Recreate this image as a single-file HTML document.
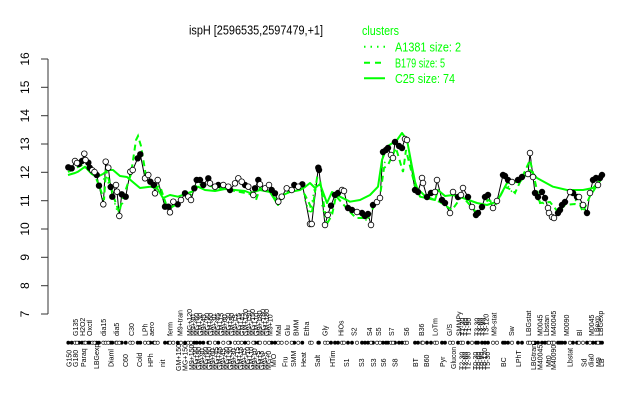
<!DOCTYPE html>
<html><head><meta charset="utf-8"><style>
html,body{margin:0;padding:0;background:#fff;}
svg{display:block;font-family:"Liberation Sans",Arial,sans-serif;}
</style></head><body>
<svg width="640" height="400" viewBox="0 0 640 400" xmlns="http://www.w3.org/2000/svg">
<rect width="640" height="400" fill="#fff"/>
<!-- title -->
<text x="256" y="34.5" font-size="12.5" text-anchor="middle" textLength="134" lengthAdjust="spacingAndGlyphs" fill="#000">ispH [2596535,2597479,+1]</text>
<!-- legend -->
<g fill="#00ff00" font-size="12.5">
<text x="362" y="35" textLength="37" lengthAdjust="spacingAndGlyphs">clusters</text>
<text x="395" y="51.5" textLength="66" lengthAdjust="spacingAndGlyphs">A1381 size: 2</text>
<text x="395" y="67.3" textLength="50" lengthAdjust="spacingAndGlyphs">B179 size: 5</text>
<text x="395" y="83" textLength="60" lengthAdjust="spacingAndGlyphs">C25 size: 74</text>
</g>
<g stroke="#00ff00" stroke-width="2" fill="none">
<line x1="364" y1="46.7" x2="385" y2="46.7" stroke-dasharray="1.5,5"/>
<line x1="364" y1="62.7" x2="385" y2="62.7" stroke-dasharray="6,5"/>
<line x1="364" y1="78.3" x2="385" y2="78.3"/>
</g>
<!-- y axis -->
<g stroke="#333" stroke-width="1" fill="none">
<line x1="48" y1="59" x2="48" y2="314"/>
<line x1="41" y1="314" x2="48" y2="314"/>
<line x1="41" y1="285.7" x2="48" y2="285.7"/>
<line x1="41" y1="257.3" x2="48" y2="257.3"/>
<line x1="41" y1="229" x2="48" y2="229"/>
<line x1="41" y1="200.7" x2="48" y2="200.7"/>
<line x1="41" y1="172.3" x2="48" y2="172.3"/>
<line x1="41" y1="144" x2="48" y2="144"/>
<line x1="41" y1="115.7" x2="48" y2="115.7"/>
<line x1="41" y1="87.3" x2="48" y2="87.3"/>
<line x1="41" y1="59" x2="48" y2="59"/>
</g>
<g font-size="12" fill="#000" text-anchor="middle">
<text transform="translate(29,314) rotate(-90)">7</text>
<text transform="translate(29,285.7) rotate(-90)">8</text>
<text transform="translate(29,257.3) rotate(-90)">9</text>
<text transform="translate(29,229) rotate(-90)">10</text>
<text transform="translate(29,200.7) rotate(-90)">11</text>
<text transform="translate(29,172.3) rotate(-90)">12</text>
<text transform="translate(29,144) rotate(-90)">13</text>
<text transform="translate(29,115.7) rotate(-90)">14</text>
<text transform="translate(29,87.3) rotate(-90)">15</text>
<text transform="translate(29,59) rotate(-90)">16</text>
</g>
<!-- black data line -->
<polyline fill="none" stroke="#000" stroke-width="1" points="68.3,167.3 71.7,168.3 75,161 77,163 79,164 82,161 84.3,153.7 85.5,160 88.3,162.7 89.7,167.7 92.3,170.3 94.5,172 96.7,175 99,185.7 103.3,204.3 105.7,161.7 108.3,167.7 110.7,187 112.3,196.7 116,185 117,191.7 119.3,216 121.7,194.3 125.7,196.7 130.3,171.7 132.7,170 137.7,158.3 140.3,154.3 145,178.3 148.3,175 150.3,181.7 153.7,185 155,193.3 157.7,180 165,206.7 168.3,206.7 170,212.3 173.3,201.7 177.7,204.3 181,200 185,193.3 188.3,196.7 191,200 194.3,188.3 196.7,180 200,180 203.3,185 208.3,178.3 210,183.3 215,186.7 218.3,185 223.3,185 228.3,186.7 230,190 235,183.3 238.3,178.3 241.7,181.7 245,185 248.3,186.7 253.3,195 255,188.3 258.3,180 260,184.3 265,188.3 269,185 271.7,190 275,193.3 278.3,201.7 281.7,196.7 286.7,188.3 291.7,190 294.3,185 298.3,186.7 302.3,184.3 310,224 311.7,224 318.3,167.7 319,170 325,225 327.7,215 331,205.7 335,195 338,193 342,190 344,191 348,208 352,210 357,212 362,213 365,216 368,214 371,225 373,205 377,202 380,198 383,152 386,150 388,148 391,155 393,158 395,142 399,146 402,148 405,139 407,140 415,190 418,192 422,178 423,183 427,197 431,193 435,192 437,180 442,200 445,203 450,213 453,192 458,197 461,195 463,188 468,197 472,207 476,215 478,213 482,207 485,197 488,195 493,208 497,201 503,175 505,176 508,180 512,182 518,180 522,177 528,174 530,153 533,177 535,193 538,197 542,192 545,198 548,208 549,213 552,217 554,218 558,213 560,210 562,205 565,202 570,192 573,193 577,197 579,197 583,205 587,213 590,193 593,180 596,178 598,185 600,178 602,175"/>
<!-- green dotted A1381 (short fragments) -->
<g fill="none" stroke="#00ff00" stroke-width="1.5" stroke-dasharray="1.5,4">
<polyline points="100,184 106,176 112,194 118,214 124,200"/>
<polyline points="305,200 310,214 316,180"/>
<polyline points="322,205 326,222 332,210"/>
<polyline points="356,214 366,220 372,212"/>
<polyline points="382,168 386,160"/>
<polyline points="508,186 514,195"/>
<polyline points="538,200 546,205"/>
<polyline points="575,200 584,206"/>
</g>
<!-- green dashed B179 -->
<polyline fill="none" stroke="#00ff00" stroke-width="2" stroke-dasharray="6,4" points="68,172 80,166 88,163 96,178 100,188 104,200 106,170 110,184 114,198 119,212 123,198 131,174 136,140 138,136 141,146 146,176 154,188 160,186 166,204 172,207 180,202 190,196 197,184 210,186 230,190 250,194 256,200 260,188 270,192 278,202 286,192 300,188 305,195 310,205 312,212 317,178 320,180 325,212 328,222 332,215 336,196 350,212 356,218 368,218 374,206 380,196 384,168 388,165 396,148 403,172 406,150 415,186 425,196 440,202 452,210 462,196 476,212 488,200 496,204 505,187 512,190 515,193 530,160 540,203 550,202 558,212 565,205 575,204 580,205 583,212 590,196 602,178"/>
<!-- green solid C25 -->
<polyline fill="none" stroke="#00ff00" stroke-width="2" stroke-linejoin="round" points="68,175 75,173 78,171.7 85,166.7 91.7,174 97,177 103,174 108,170 113,170 120,176 127,177 134,183 140,188 150,186.7 157,188 163,198 170,195 178,196.7 185,194 192,191.7 198,186.7 205,190 215,191 225,189 235,190 245,191 250,193 260,190 270,192 278,205 283,195 290,192 300,190 305,187 310,183 315,188 320,184 327,203 332,192 340,196.7 350,201.7 360,200 370,195 378,186.7 382,160 387,146.7 397,140 402,133 407,140 412,166.7 415,181.7 420,196.7 435,200 438,190 445,196 453,195 463,198 477,203 487,205 497,201.7 507,183 520,181.7 530,170 537,178 553,186.7 567,190 583,190 593,188 602,178"/>
<!-- filled points -->
<g fill="#000" stroke="#000" stroke-width="0.8">
<circle cx="68.3" cy="167.3" r="2.8"/><circle cx="71.7" cy="168.3" r="2.8"/><circle cx="79" cy="164" r="2.8"/><circle cx="82" cy="161" r="2.8"/><circle cx="88.3" cy="162.7" r="2.8"/><circle cx="89.7" cy="167.7" r="2.8"/><circle cx="96.7" cy="175" r="2.8"/><circle cx="99" cy="185.7" r="2.8"/><circle cx="110.7" cy="187" r="2.8"/><circle cx="112.3" cy="196.7" r="2.8"/><circle cx="121.7" cy="194.3" r="2.8"/><circle cx="125.7" cy="196.7" r="2.8"/><circle cx="137.7" cy="158.3" r="2.8"/><circle cx="140.3" cy="154.3" r="2.8"/><circle cx="150.3" cy="181.7" r="2.8"/><circle cx="153.7" cy="185" r="2.8"/><circle cx="165" cy="206.7" r="2.8"/><circle cx="168.3" cy="206.7" r="2.8"/><circle cx="177.7" cy="204.3" r="2.8"/><circle cx="185" cy="193.3" r="2.8"/><circle cx="194.3" cy="188.3" r="2.8"/><circle cx="196.7" cy="180" r="2.8"/><circle cx="200" cy="180" r="2.8"/><circle cx="203.3" cy="185" r="2.8"/><circle cx="208.3" cy="178.3" r="2.8"/><circle cx="218.3" cy="185" r="2.8"/><circle cx="230" cy="190" r="2.8"/><circle cx="245" cy="185" r="2.8"/><circle cx="255" cy="188.3" r="2.8"/><circle cx="258.3" cy="180" r="2.8"/><circle cx="271.7" cy="190" r="2.8"/><circle cx="275" cy="193.3" r="2.8"/><circle cx="294.3" cy="185" r="2.8"/><circle cx="302.3" cy="184.3" r="2.8"/><circle cx="318.3" cy="167.7" r="2.8"/><circle cx="319" cy="170" r="2.8"/><circle cx="331" cy="205.7" r="2.8"/><circle cx="335" cy="195" r="2.8"/><circle cx="338" cy="193" r="2.8"/><circle cx="348" cy="208" r="2.8"/><circle cx="352" cy="210" r="2.8"/><circle cx="362" cy="213" r="2.8"/><circle cx="365" cy="216" r="2.8"/><circle cx="368" cy="214" r="2.8"/><circle cx="373" cy="205" r="2.8"/><circle cx="383" cy="152" r="2.8"/><circle cx="386" cy="150" r="2.8"/><circle cx="388" cy="148" r="2.8"/><circle cx="395" cy="142" r="2.8"/><circle cx="399" cy="146" r="2.8"/><circle cx="402" cy="148" r="2.8"/><circle cx="415" cy="190" r="2.8"/><circle cx="418" cy="192" r="2.8"/><circle cx="427" cy="197" r="2.8"/><circle cx="431" cy="193" r="2.8"/><circle cx="442" cy="200" r="2.8"/><circle cx="445" cy="203" r="2.8"/><circle cx="458" cy="197" r="2.8"/><circle cx="468" cy="197" r="2.8"/><circle cx="476" cy="215" r="2.8"/><circle cx="478" cy="213" r="2.8"/><circle cx="482" cy="207" r="2.8"/><circle cx="485" cy="197" r="2.8"/><circle cx="488" cy="195" r="2.8"/><circle cx="503" cy="175" r="2.8"/><circle cx="505" cy="176" r="2.8"/><circle cx="508" cy="180" r="2.8"/><circle cx="518" cy="180" r="2.8"/><circle cx="522" cy="177" r="2.8"/><circle cx="535" cy="193" r="2.8"/><circle cx="538" cy="197" r="2.8"/><circle cx="542" cy="192" r="2.8"/><circle cx="545" cy="198" r="2.8"/><circle cx="558" cy="213" r="2.8"/><circle cx="560" cy="210" r="2.8"/><circle cx="562" cy="205" r="2.8"/><circle cx="565" cy="202" r="2.8"/><circle cx="573" cy="193" r="2.8"/><circle cx="577" cy="197" r="2.8"/><circle cx="587" cy="213" r="2.8"/><circle cx="593" cy="180" r="2.8"/><circle cx="596" cy="178" r="2.8"/><circle cx="600" cy="178" r="2.8"/><circle cx="602" cy="175" r="2.8"/>
</g>
<!-- open points -->
<g fill="#fff" stroke="#000" stroke-width="0.8">
<circle cx="75" cy="161" r="2.8"/><circle cx="77" cy="163" r="2.8"/><circle cx="84.3" cy="153.7" r="2.8"/><circle cx="85.5" cy="160" r="2.8"/><circle cx="92.3" cy="170.3" r="2.8"/><circle cx="94.5" cy="172" r="2.8"/><circle cx="103.3" cy="204.3" r="2.8"/><circle cx="105.7" cy="161.7" r="2.8"/><circle cx="108.3" cy="167.7" r="2.8"/><circle cx="116" cy="185" r="2.8"/><circle cx="117" cy="191.7" r="2.8"/><circle cx="119.3" cy="216" r="2.8"/><circle cx="130.3" cy="171.7" r="2.8"/><circle cx="132.7" cy="170" r="2.8"/><circle cx="145" cy="178.3" r="2.8"/><circle cx="148.3" cy="175" r="2.8"/><circle cx="155" cy="193.3" r="2.8"/><circle cx="157.7" cy="180" r="2.8"/><circle cx="170" cy="212.3" r="2.8"/><circle cx="173.3" cy="201.7" r="2.8"/><circle cx="181" cy="200" r="2.8"/><circle cx="188.3" cy="196.7" r="2.8"/><circle cx="191" cy="200" r="2.8"/><circle cx="210" cy="183.3" r="2.8"/><circle cx="215" cy="186.7" r="2.8"/><circle cx="223.3" cy="185" r="2.8"/><circle cx="228.3" cy="186.7" r="2.8"/><circle cx="235" cy="183.3" r="2.8"/><circle cx="238.3" cy="178.3" r="2.8"/><circle cx="241.7" cy="181.7" r="2.8"/><circle cx="248.3" cy="186.7" r="2.8"/><circle cx="253.3" cy="195" r="2.8"/><circle cx="260" cy="184.3" r="2.8"/><circle cx="265" cy="188.3" r="2.8"/><circle cx="269" cy="185" r="2.8"/><circle cx="278.3" cy="201.7" r="2.8"/><circle cx="281.7" cy="196.7" r="2.8"/><circle cx="286.7" cy="188.3" r="2.8"/><circle cx="291.7" cy="190" r="2.8"/><circle cx="298.3" cy="186.7" r="2.8"/><circle cx="310" cy="224" r="2.8"/><circle cx="311.7" cy="224" r="2.8"/><circle cx="325" cy="225" r="2.8"/><circle cx="327.7" cy="215" r="2.8"/><circle cx="342" cy="190" r="2.8"/><circle cx="344" cy="191" r="2.8"/><circle cx="357" cy="212" r="2.8"/><circle cx="371" cy="225" r="2.8"/><circle cx="377" cy="202" r="2.8"/><circle cx="380" cy="198" r="2.8"/><circle cx="391" cy="155" r="2.8"/><circle cx="393" cy="158" r="2.8"/><circle cx="405" cy="139" r="2.8"/><circle cx="407" cy="140" r="2.8"/><circle cx="422" cy="178" r="2.8"/><circle cx="423" cy="183" r="2.8"/><circle cx="435" cy="192" r="2.8"/><circle cx="437" cy="180" r="2.8"/><circle cx="450" cy="213" r="2.8"/><circle cx="453" cy="192" r="2.8"/><circle cx="461" cy="195" r="2.8"/><circle cx="463" cy="188" r="2.8"/><circle cx="472" cy="207" r="2.8"/><circle cx="493" cy="208" r="2.8"/><circle cx="497" cy="201" r="2.8"/><circle cx="512" cy="182" r="2.8"/><circle cx="528" cy="174" r="2.8"/><circle cx="530" cy="153" r="2.8"/><circle cx="533" cy="177" r="2.8"/><circle cx="548" cy="208" r="2.8"/><circle cx="549" cy="213" r="2.8"/><circle cx="552" cy="217" r="2.8"/><circle cx="554" cy="218" r="2.8"/><circle cx="570" cy="192" r="2.8"/><circle cx="579" cy="197" r="2.8"/><circle cx="583" cy="205" r="2.8"/><circle cx="590" cy="193" r="2.8"/><circle cx="598" cy="185" r="2.8"/>
</g>
<!-- rug dots -->
<g fill="#000" stroke="#000" stroke-width="0.6">
<circle cx="68.3" cy="342.7" r="1.6"/><circle cx="71.7" cy="342.7" r="1.6"/><circle cx="79" cy="342.7" r="1.6"/><circle cx="82" cy="342.7" r="1.6"/><circle cx="88.3" cy="342.7" r="1.6"/><circle cx="89.7" cy="342.7" r="1.6"/><circle cx="96.7" cy="342.7" r="1.6"/><circle cx="99" cy="342.7" r="1.6"/><circle cx="110.7" cy="342.7" r="1.6"/><circle cx="112.3" cy="342.7" r="1.6"/><circle cx="121.7" cy="342.7" r="1.6"/><circle cx="125.7" cy="342.7" r="1.6"/><circle cx="137.7" cy="342.7" r="1.6"/><circle cx="140.3" cy="342.7" r="1.6"/><circle cx="150.3" cy="342.7" r="1.6"/><circle cx="153.7" cy="342.7" r="1.6"/><circle cx="165" cy="342.7" r="1.6"/><circle cx="168.3" cy="342.7" r="1.6"/><circle cx="177.7" cy="342.7" r="1.6"/><circle cx="185" cy="342.7" r="1.6"/><circle cx="194.3" cy="342.7" r="1.6"/><circle cx="196.7" cy="342.7" r="1.6"/><circle cx="200" cy="342.7" r="1.6"/><circle cx="203.3" cy="342.7" r="1.6"/><circle cx="208.3" cy="342.7" r="1.6"/><circle cx="218.3" cy="342.7" r="1.6"/><circle cx="230" cy="342.7" r="1.6"/><circle cx="245" cy="342.7" r="1.6"/><circle cx="255" cy="342.7" r="1.6"/><circle cx="258.3" cy="342.7" r="1.6"/><circle cx="271.7" cy="342.7" r="1.6"/><circle cx="275" cy="342.7" r="1.6"/><circle cx="294.3" cy="342.7" r="1.6"/><circle cx="302.3" cy="342.7" r="1.6"/><circle cx="318.3" cy="342.7" r="1.6"/><circle cx="319" cy="342.7" r="1.6"/><circle cx="331" cy="342.7" r="1.6"/><circle cx="335" cy="342.7" r="1.6"/><circle cx="338" cy="342.7" r="1.6"/><circle cx="348" cy="342.7" r="1.6"/><circle cx="352" cy="342.7" r="1.6"/><circle cx="362" cy="342.7" r="1.6"/><circle cx="365" cy="342.7" r="1.6"/><circle cx="368" cy="342.7" r="1.6"/><circle cx="373" cy="342.7" r="1.6"/><circle cx="383" cy="342.7" r="1.6"/><circle cx="386" cy="342.7" r="1.6"/><circle cx="388" cy="342.7" r="1.6"/><circle cx="395" cy="342.7" r="1.6"/><circle cx="399" cy="342.7" r="1.6"/><circle cx="402" cy="342.7" r="1.6"/><circle cx="415" cy="342.7" r="1.6"/><circle cx="418" cy="342.7" r="1.6"/><circle cx="427" cy="342.7" r="1.6"/><circle cx="431" cy="342.7" r="1.6"/><circle cx="442" cy="342.7" r="1.6"/><circle cx="445" cy="342.7" r="1.6"/><circle cx="458" cy="342.7" r="1.6"/><circle cx="468" cy="342.7" r="1.6"/><circle cx="476" cy="342.7" r="1.6"/><circle cx="478" cy="342.7" r="1.6"/><circle cx="482" cy="342.7" r="1.6"/><circle cx="485" cy="342.7" r="1.6"/><circle cx="488" cy="342.7" r="1.6"/><circle cx="503" cy="342.7" r="1.6"/><circle cx="505" cy="342.7" r="1.6"/><circle cx="508" cy="342.7" r="1.6"/><circle cx="518" cy="342.7" r="1.6"/><circle cx="522" cy="342.7" r="1.6"/><circle cx="535" cy="342.7" r="1.6"/><circle cx="538" cy="342.7" r="1.6"/><circle cx="542" cy="342.7" r="1.6"/><circle cx="545" cy="342.7" r="1.6"/><circle cx="558" cy="342.7" r="1.6"/><circle cx="560" cy="342.7" r="1.6"/><circle cx="562" cy="342.7" r="1.6"/><circle cx="565" cy="342.7" r="1.6"/><circle cx="573" cy="342.7" r="1.6"/><circle cx="577" cy="342.7" r="1.6"/><circle cx="587" cy="342.7" r="1.6"/><circle cx="593" cy="342.7" r="1.6"/><circle cx="596" cy="342.7" r="1.6"/><circle cx="600" cy="342.7" r="1.6"/><circle cx="602" cy="342.7" r="1.6"/>
</g>
<g fill="#fff" stroke="#000" stroke-width="0.6">
<circle cx="75" cy="342.7" r="1.6"/><circle cx="77" cy="342.7" r="1.6"/><circle cx="84.3" cy="342.7" r="1.6"/><circle cx="85.5" cy="342.7" r="1.6"/><circle cx="92.3" cy="342.7" r="1.6"/><circle cx="94.5" cy="342.7" r="1.6"/><circle cx="103.3" cy="342.7" r="1.6"/><circle cx="105.7" cy="342.7" r="1.6"/><circle cx="108.3" cy="342.7" r="1.6"/><circle cx="116" cy="342.7" r="1.6"/><circle cx="117" cy="342.7" r="1.6"/><circle cx="119.3" cy="342.7" r="1.6"/><circle cx="130.3" cy="342.7" r="1.6"/><circle cx="132.7" cy="342.7" r="1.6"/><circle cx="145" cy="342.7" r="1.6"/><circle cx="148.3" cy="342.7" r="1.6"/><circle cx="155" cy="342.7" r="1.6"/><circle cx="157.7" cy="342.7" r="1.6"/><circle cx="170" cy="342.7" r="1.6"/><circle cx="173.3" cy="342.7" r="1.6"/><circle cx="181" cy="342.7" r="1.6"/><circle cx="188.3" cy="342.7" r="1.6"/><circle cx="191" cy="342.7" r="1.6"/><circle cx="210" cy="342.7" r="1.6"/><circle cx="215" cy="342.7" r="1.6"/><circle cx="223.3" cy="342.7" r="1.6"/><circle cx="228.3" cy="342.7" r="1.6"/><circle cx="235" cy="342.7" r="1.6"/><circle cx="238.3" cy="342.7" r="1.6"/><circle cx="241.7" cy="342.7" r="1.6"/><circle cx="248.3" cy="342.7" r="1.6"/><circle cx="253.3" cy="342.7" r="1.6"/><circle cx="260" cy="342.7" r="1.6"/><circle cx="265" cy="342.7" r="1.6"/><circle cx="269" cy="342.7" r="1.6"/><circle cx="278.3" cy="342.7" r="1.6"/><circle cx="281.7" cy="342.7" r="1.6"/><circle cx="286.7" cy="342.7" r="1.6"/><circle cx="291.7" cy="342.7" r="1.6"/><circle cx="298.3" cy="342.7" r="1.6"/><circle cx="310" cy="342.7" r="1.6"/><circle cx="311.7" cy="342.7" r="1.6"/><circle cx="325" cy="342.7" r="1.6"/><circle cx="327.7" cy="342.7" r="1.6"/><circle cx="342" cy="342.7" r="1.6"/><circle cx="344" cy="342.7" r="1.6"/><circle cx="357" cy="342.7" r="1.6"/><circle cx="371" cy="342.7" r="1.6"/><circle cx="377" cy="342.7" r="1.6"/><circle cx="380" cy="342.7" r="1.6"/><circle cx="391" cy="342.7" r="1.6"/><circle cx="393" cy="342.7" r="1.6"/><circle cx="405" cy="342.7" r="1.6"/><circle cx="407" cy="342.7" r="1.6"/><circle cx="422" cy="342.7" r="1.6"/><circle cx="423" cy="342.7" r="1.6"/><circle cx="435" cy="342.7" r="1.6"/><circle cx="437" cy="342.7" r="1.6"/><circle cx="450" cy="342.7" r="1.6"/><circle cx="453" cy="342.7" r="1.6"/><circle cx="461" cy="342.7" r="1.6"/><circle cx="463" cy="342.7" r="1.6"/><circle cx="472" cy="342.7" r="1.6"/><circle cx="493" cy="342.7" r="1.6"/><circle cx="497" cy="342.7" r="1.6"/><circle cx="512" cy="342.7" r="1.6"/><circle cx="528" cy="342.7" r="1.6"/><circle cx="530" cy="342.7" r="1.6"/><circle cx="533" cy="342.7" r="1.6"/><circle cx="548" cy="342.7" r="1.6"/><circle cx="549" cy="342.7" r="1.6"/><circle cx="552" cy="342.7" r="1.6"/><circle cx="554" cy="342.7" r="1.6"/><circle cx="570" cy="342.7" r="1.6"/><circle cx="579" cy="342.7" r="1.6"/><circle cx="583" cy="342.7" r="1.6"/><circle cx="590" cy="342.7" r="1.6"/><circle cx="598" cy="342.7" r="1.6"/>
</g>
<!-- upper x labels -->
<g font-size="7" fill="#000">
<text transform="translate(78.2,336) rotate(-90)">G135</text>
<text transform="translate(85.2,336) rotate(-90)">H2O2</text>
<text transform="translate(91.8,336) rotate(-90)">Oxctl</text>
<text transform="translate(105.8,336) rotate(-90)">dia15</text>
<text transform="translate(119.2,336) rotate(-90)">dia5</text>
<text transform="translate(134.2,336) rotate(-90)">C30</text>
<text transform="translate(147.5,336) rotate(-90)">LPh</text>
<text transform="translate(154.2,336) rotate(-90)">aero</text>
<text transform="translate(172.5,336) rotate(-90)">ferm</text>
<text transform="translate(182.5,336) rotate(-90)">M9+tran</text>
<text transform="translate(191.8,336) rotate(-90)">MG+120</text>
<text transform="translate(195.5,336) rotate(-90)">M9+90</text>
<text transform="translate(199,336) rotate(-90)">MG+60</text>
<text transform="translate(202.5,336) rotate(-90)">GM+30</text>
<text transform="translate(206,336) rotate(-90)">M9+45</text>
<text transform="translate(209.5,336) rotate(-90)">MG+90</text>
<text transform="translate(213,336) rotate(-90)">GM+60</text>
<text transform="translate(216.5,336) rotate(-90)">M9+30</text>
<text transform="translate(220,336) rotate(-90)">MG+45</text>
<text transform="translate(223.5,336) rotate(-90)">GM+15</text>
<text transform="translate(227,336) rotate(-90)">M9+60</text>
<text transform="translate(230.5,336) rotate(-90)">MG+30</text>
<text transform="translate(234,336) rotate(-90)">GM+90</text>
<text transform="translate(237.5,336) rotate(-90)">M9+15</text>
<text transform="translate(241,336) rotate(-90)">MG+15</text>
<text transform="translate(244.5,336) rotate(-90)">GM+45</text>
<text transform="translate(248,336) rotate(-90)">GM+120</text>
<text transform="translate(251.5,336) rotate(-90)">M9+150</text>
<text transform="translate(255,336) rotate(-90)">MG+150</text>
<text transform="translate(258.5,336) rotate(-90)">GM+10</text>
<text transform="translate(262,336) rotate(-90)">M9+180</text>
<text transform="translate(265.5,336) rotate(-90)">MG+180</text>
<text transform="translate(269,336) rotate(-90)">GM+180</text>
<text transform="translate(272.5,336) rotate(-90)">M9+10</text>
<text transform="translate(280.8,336) rotate(-90)">Mal</text>
<text transform="translate(289.8,336) rotate(-90)">Glu</text>
<text transform="translate(298.5,336) rotate(-90)">BMM</text>
<text transform="translate(309.2,336) rotate(-90)">Etha</text>
<text transform="translate(327.5,336) rotate(-90)">Gly</text>
<text transform="translate(343.5,336) rotate(-90)">HiOs</text>
<text transform="translate(356.5,336) rotate(-90)">S2</text>
<text transform="translate(371.8,336) rotate(-90)">S4</text>
<text transform="translate(380.8,336) rotate(-90)">S5</text>
<text transform="translate(394.2,336) rotate(-90)">S7</text>
<text transform="translate(409.2,336) rotate(-90)">S6</text>
<text transform="translate(424.2,336) rotate(-90)">B36</text>
<text transform="translate(437.5,336) rotate(-90)">LoTm</text>
<text transform="translate(451.8,336) rotate(-90)">G/S</text>
<text transform="translate(461.5,336) rotate(-90)">SMMPy</text>
<text transform="translate(465,336) rotate(-90)">T1-30</text>
<text transform="translate(468,336) rotate(-90)">T1-60</text>
<text transform="translate(471,336) rotate(-90)">T1-90</text>
<text transform="translate(479.5,336) rotate(-90)">T3-30</text>
<text transform="translate(482.5,336) rotate(-90)">T3-60</text>
<text transform="translate(485.5,336) rotate(-90)">T3-90</text>
<text transform="translate(488.5,336) rotate(-90)">T3-120</text>
<text transform="translate(496.5,336) rotate(-90)">M9-stat</text>
<text transform="translate(514.2,336) rotate(-90)">Sw</text>
<text transform="translate(530.8,336) rotate(-90)">LBGstat</text>
<text transform="translate(542.5,336) rotate(-90)">M0045</text>
<text transform="translate(549.2,336) rotate(-90)">Lbstan</text>
<text transform="translate(555.8,336) rotate(-90)">M40045</text>
<text transform="translate(569.2,336) rotate(-90)">M0090</text>
<text transform="translate(581.8,336) rotate(-90)">Bl</text>
<text transform="translate(594.2,336) rotate(-90)">M0045</text>
<text transform="translate(599.5,336) rotate(-90)">LBexp</text>
<text transform="translate(603,336) rotate(-90)">LBGexp</text>
</g>
<!-- lower x labels -->
<g font-size="7" fill="#000">
<text transform="translate(71.5,367) rotate(-90)">G150</text>
<text transform="translate(78.2,367) rotate(-90)">G180</text>
<text transform="translate(85.8,367) rotate(-90)">Paraq</text>
<text transform="translate(99.2,369) rotate(-90)">LBGexp</text>
<text transform="translate(113.5,367) rotate(-90)">Diaml</text>
<text transform="translate(128.2,367) rotate(-90)">C60</text>
<text transform="translate(141.8,367) rotate(-90)">Cold</text>
<text transform="translate(153.2,367) rotate(-90)">HPh</text>
<text transform="translate(165.2,367) rotate(-90)">nit</text>
<text transform="translate(180.8,371) rotate(-90)">GM+150</text>
<text transform="translate(187.5,371) rotate(-90)">MG+150</text>
<text transform="translate(194,370) rotate(-90)">M9+150</text>
<text transform="translate(197.5,370) rotate(-90)">MG+90</text>
<text transform="translate(201,370) rotate(-90)">GM+90</text>
<text transform="translate(204.5,370) rotate(-90)">M9+90</text>
<text transform="translate(208,370) rotate(-90)">MG+60</text>
<text transform="translate(211.5,370) rotate(-90)">GM+60</text>
<text transform="translate(215,370) rotate(-90)">M9+60</text>
<text transform="translate(218.5,370) rotate(-90)">MG+45</text>
<text transform="translate(222,370) rotate(-90)">GM+45</text>
<text transform="translate(225.5,370) rotate(-90)">M9+45</text>
<text transform="translate(229,370) rotate(-90)">MG+30</text>
<text transform="translate(232.5,370) rotate(-90)">GM+30</text>
<text transform="translate(236,370) rotate(-90)">M9+30</text>
<text transform="translate(239.5,370) rotate(-90)">MG+15</text>
<text transform="translate(243,370) rotate(-90)">GM+15</text>
<text transform="translate(246.5,370) rotate(-90)">M9+15</text>
<text transform="translate(250,370) rotate(-90)">MG+10</text>
<text transform="translate(253.5,370) rotate(-90)">GM+10</text>
<text transform="translate(257,370) rotate(-90)">M9+10</text>
<text transform="translate(260.5,370) rotate(-90)">MG+5</text>
<text transform="translate(264,370) rotate(-90)">GM+5</text>
<text transform="translate(267.5,370) rotate(-90)">M9+5</text>
<text transform="translate(271,370) rotate(-90)">MG+0</text>
<text transform="translate(275.8,367) rotate(-90)">M/O</text>
<text transform="translate(287.5,367) rotate(-90)">Fru</text>
<text transform="translate(295.8,367) rotate(-90)">SMM</text>
<text transform="translate(305.8,367) rotate(-90)">Heat</text>
<text transform="translate(319.8,367) rotate(-90)">Salt</text>
<text transform="translate(335.2,367) rotate(-90)">HTim</text>
<text transform="translate(349.2,367) rotate(-90)">S1</text>
<text transform="translate(364.2,367) rotate(-90)">S3</text>
<text transform="translate(375.8,367) rotate(-90)">S3</text>
<text transform="translate(385.8,367) rotate(-90)">S6</text>
<text transform="translate(397.5,367) rotate(-90)">S8</text>
<text transform="translate(418.2,367) rotate(-90)">BT</text>
<text transform="translate(429.2,367) rotate(-90)">B60</text>
<text transform="translate(445.2,367) rotate(-90)">Pyr</text>
<text transform="translate(455.8,369) rotate(-90)">Glucon</text>
<text transform="translate(464.5,370) rotate(-90)">T2-30</text>
<text transform="translate(467.5,370) rotate(-90)">T2-60</text>
<text transform="translate(470.5,370) rotate(-90)">T2-90</text>
<text transform="translate(478,370) rotate(-90)">T0-30</text>
<text transform="translate(481,370) rotate(-90)">T0-60</text>
<text transform="translate(484,370) rotate(-90)">T0-90</text>
<text transform="translate(487,370) rotate(-90)">T0-120</text>
<text transform="translate(490,370) rotate(-90)">T5-30</text>
<text transform="translate(505.8,367) rotate(-90)">BC</text>
<text transform="translate(520.8,367) rotate(-90)">LPhT</text>
<text transform="translate(535.8,370) rotate(-90)">LBGtran</text>
<text transform="translate(542.5,370) rotate(-90)">M40045</text>
<text transform="translate(550.8,367) rotate(-90)">Mt0</text>
<text transform="translate(555.8,370) rotate(-90)">M40090</text>
<text transform="translate(572.5,367) rotate(-90)">Lbstat</text>
<text transform="translate(586.5,367) rotate(-90)">Sd</text>
<text transform="translate(593.5,367) rotate(-90)">dia0</text>
<text transform="translate(600.8,367) rotate(-90)">M9</text>
<text transform="translate(604.2,367) rotate(-90)">LB</text>
</g>
</svg>
</body></html>
